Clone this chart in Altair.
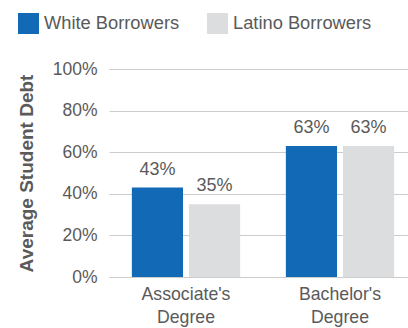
import altair as alt
import pandas as pd

degrees = ["Associate's Degree", "Bachelor's Degree"]
groups = ["White Borrowers", "Latino Borrowers"]
white_vals = [0.43, 0.63]
latino_vals = [0.35, 0.63]
colors = ["#1269b5", "#dcdddf"]
y_ticks = [0, 0.2, 0.4, 0.6, 0.8, 1.0]

rows = []
for i, d in enumerate(degrees):
    rows.append({"degree": d, "group": groups[0], "value": white_vals[i]})
    rows.append({"degree": d, "group": groups[1], "value": latino_vals[i]})
df = pd.DataFrame(rows)

font = "Liberation Sans"
textc = "#5a5a5a"

x = alt.X(
    "degree:N", sort=degrees,
    scale=alt.Scale(range=[0, 308], paddingInner=0, paddingOuter=0),
    axis=alt.Axis(title=None, labelAngle=0, domain=False, ticks=False,
                  labelFontSize=17.7, labelColor=textc, labelFont=font,
                  labelExpr="split(datum.label, ' ')", labelLineHeight=23,
                  labelPadding=8),
)
xo = alt.XOffset("group:N", sort=groups,
                 scale=alt.Scale(paddingInner=0.105, paddingOuter=0.40))
y = alt.Y(
    "value:Q", scale=alt.Scale(domain=[0, 1]),
    axis=alt.Axis(format="%", values=y_ticks, title="Average Student Debt",
                  titleFontSize=19, titleFontWeight="bold", titleColor=textc,
                  titleFont=font, labelFont=font, labelFontSize=17.5,
                  labelColor=textc, domain=False, ticks=False, labelPadding=12,
                  gridColor="#cccccc", titlePadding=16),
)

bars = alt.Chart(df).mark_bar().encode(
    x=x, xOffset=xo, y=y,
    color=alt.Color("group:N", sort=groups,
                    scale=alt.Scale(domain=groups, range=colors),
                    legend=alt.Legend(title=None, orient="none", legendX=-91,
                                      legendY=-56, direction="horizontal",
                                      symbolType="square", symbolSize=441,
                                      symbolStrokeWidth=0, labelFontSize=18.3,
                                      labelColor=textc, labelFont=font,
                                      columnPadding=27, labelOffset=5)),
)
text = alt.Chart(df).mark_text(dy=-13, baseline="alphabetic", fontSize=18,
                               color=textc, font=font).encode(
    x=x, xOffset=xo, y=y, text=alt.Text("value:Q", format=".0%"))

chart = (bars + text).properties(
    width=299, height=208,
    autosize=alt.AutoSizeParams(type="none"),
    padding={"left": 109, "top": 69, "right": 0, "bottom": 51},
).configure_view(stroke=None)

chart.save("out.html", embed_options={"renderer": "svg", "actions": False})
